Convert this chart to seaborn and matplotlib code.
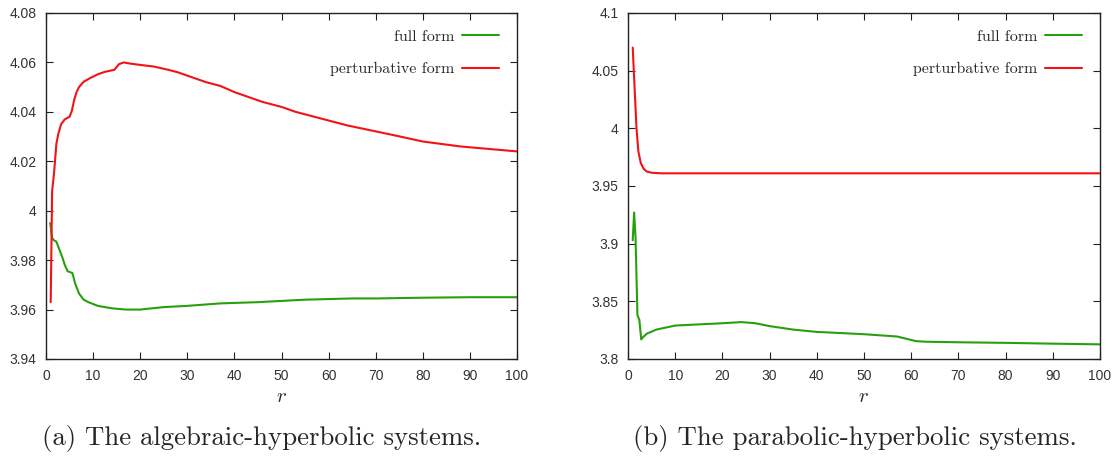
import numpy as np
import pandas as pd
import matplotlib
matplotlib.use("Agg")
import matplotlib.pyplot as plt
from matplotlib.ticker import FuncFormatter, MultipleLocator
import seaborn as sns

# ---- data: panel (a) algebraic-hyperbolic ----
a_full_r = [0.9, 1.3, 1.7, 2.2, 2.7, 3.1, 3.5, 4.0, 4.6, 5.6, 6.2, 7.0, 8.0, 9.0, 11, 14, 17, 20, 25, 30, 37, 45, 55, 65, 70, 80, 90, 100]
a_full_v = [3.995, 3.989, 3.988, 3.9875, 3.985, 3.983, 3.981, 3.978, 3.9755, 3.9748, 3.9705, 3.9665, 3.964, 3.963, 3.9615, 3.9605, 3.960, 3.960, 3.961, 3.9615, 3.9625, 3.963, 3.964, 3.9645, 3.9645, 3.9648, 3.965, 3.965]
a_pert_r = [1, 1.3, 1.7, 2.2, 2.6, 3.2, 4.0, 5.0, 5.5, 6.0, 6.5, 7.0, 8.0, 9.5, 11, 12.5, 14.5, 15.5, 16.5, 18, 20, 23, 26, 28, 31, 34, 37, 40, 43, 46, 50, 53, 57, 61, 64, 69, 74, 80, 88, 91, 100]
a_pert_v = [3.963, 4.008, 4.015, 4.027, 4.031, 4.035, 4.037, 4.038, 4.0405, 4.045, 4.048, 4.050, 4.0522, 4.0538, 4.0552, 4.0562, 4.057, 4.0593, 4.060, 4.0595, 4.059, 4.0583, 4.057, 4.056, 4.054, 4.052, 4.0505, 4.048, 4.046, 4.044, 4.042, 4.040, 4.038, 4.036, 4.0345, 4.0325, 4.0305, 4.028, 4.026, 4.0255, 4.024]

# ---- data: panel (b) parabolic-hyperbolic ----
b_full_r = [1, 1.3, 1.6, 2.0, 2.4, 2.8, 3.2, 4.0, 6.0, 10, 15, 20, 24, 27, 30, 35, 40, 50, 57, 59, 61, 63, 70, 80, 90, 100]
b_full_v = [3.903, 3.927, 3.905, 3.838, 3.834, 3.817, 3.819, 3.822, 3.8255, 3.829, 3.830, 3.831, 3.832, 3.831, 3.8285, 3.8255, 3.8235, 3.8215, 3.8195, 3.8175, 3.8155, 3.815, 3.8145, 3.814, 3.8133, 3.8127]
b_pert_r = [1, 1.4, 1.8, 2.2, 2.7, 3.3, 4.0, 5.0, 7.0, 10, 20, 30, 50, 70, 100]
b_pert_v = [4.07, 4.035, 4.0, 3.980, 3.970, 3.965, 3.9625, 3.9615, 3.961, 3.961, 3.961, 3.961, 3.961, 3.961, 3.961]

labels = ["full form", "perturbative form"]
captions = ["(a) The algebraic-hyperbolic systems.", "(b) The parabolic-hyperbolic systems."]

GREEN = "#27a010"
RED = "#f21414"

sns.set_style("ticks")
plt.rcParams["mathtext.fontset"] = "cm"
plt.rcParams["font.family"] = ["Liberation Sans", "DejaVu Sans"]

fig = plt.figure(figsize=(11.2, 4.57), dpi=100)
axes = [fig.add_axes([46/1120, 1-359/457, 471/1120, 346/457]),
        fig.add_axes([628/1120, 1-359/457, 472/1120, 346/457])]

panels = [
    (a_full_r, a_full_v, a_pert_r, a_pert_v, (3.94, 4.08), 0.02),
    (b_full_r, b_full_v, b_pert_r, b_pert_v, (3.80, 4.10), 0.05),
]
cap_x = [262/1120, 855/1120]

fmt = FuncFormatter(lambda v, p: "%g" % round(v, 4))

for ax, (fr, fv, pr, pv, ylim, ystep), cap, cx in zip(axes, panels, captions, cap_x):
    df = pd.concat([
        pd.DataFrame({"r": fr, "v": fv, "s": labels[0]}),
        pd.DataFrame({"r": pr, "v": pv, "s": labels[1]}),
    ])
    sns.lineplot(data=df, x="r", y="v", hue="s", palette=[GREEN, RED],
                 estimator=None, sort=False, linewidth=1.5, ax=ax)
    ax.set_xlim(0, 100)
    ax.set_ylim(*ylim)
    ax.xaxis.set_major_locator(MultipleLocator(10))
    ax.yaxis.set_major_locator(MultipleLocator(ystep))
    ax.yaxis.set_major_formatter(fmt)
    ax.tick_params(direction="in", top=True, right=True, length=5, width=0.8,
                   labelsize=10, colors="#222222", labelcolor="#333333", pad=7)
    for sp in ax.spines.values():
        sp.set_visible(True)
        sp.set_linewidth(1.0)
        sp.set_color("#222222")
    ax.set_xlabel("$r$", fontsize=15, labelpad=3)
    ax.set_ylabel("")
    leg = ax.legend(loc="upper right", frameon=False, markerfirst=False,
                    prop={"family": "cmr10", "size": 11.5},
                    labelspacing=1.15, handlelength=2.3, handletextpad=0.5,
                    bbox_to_anchor=(0.985, 0.985), borderaxespad=0.3)
    for line in leg.get_lines():
        line.set_linewidth(1.5)
    fig.text(cx, 1 - 438/457, cap, ha="center", va="center",
             fontsize=19.3, family="cmr10")

fig.savefig("out.png", dpi=100)
